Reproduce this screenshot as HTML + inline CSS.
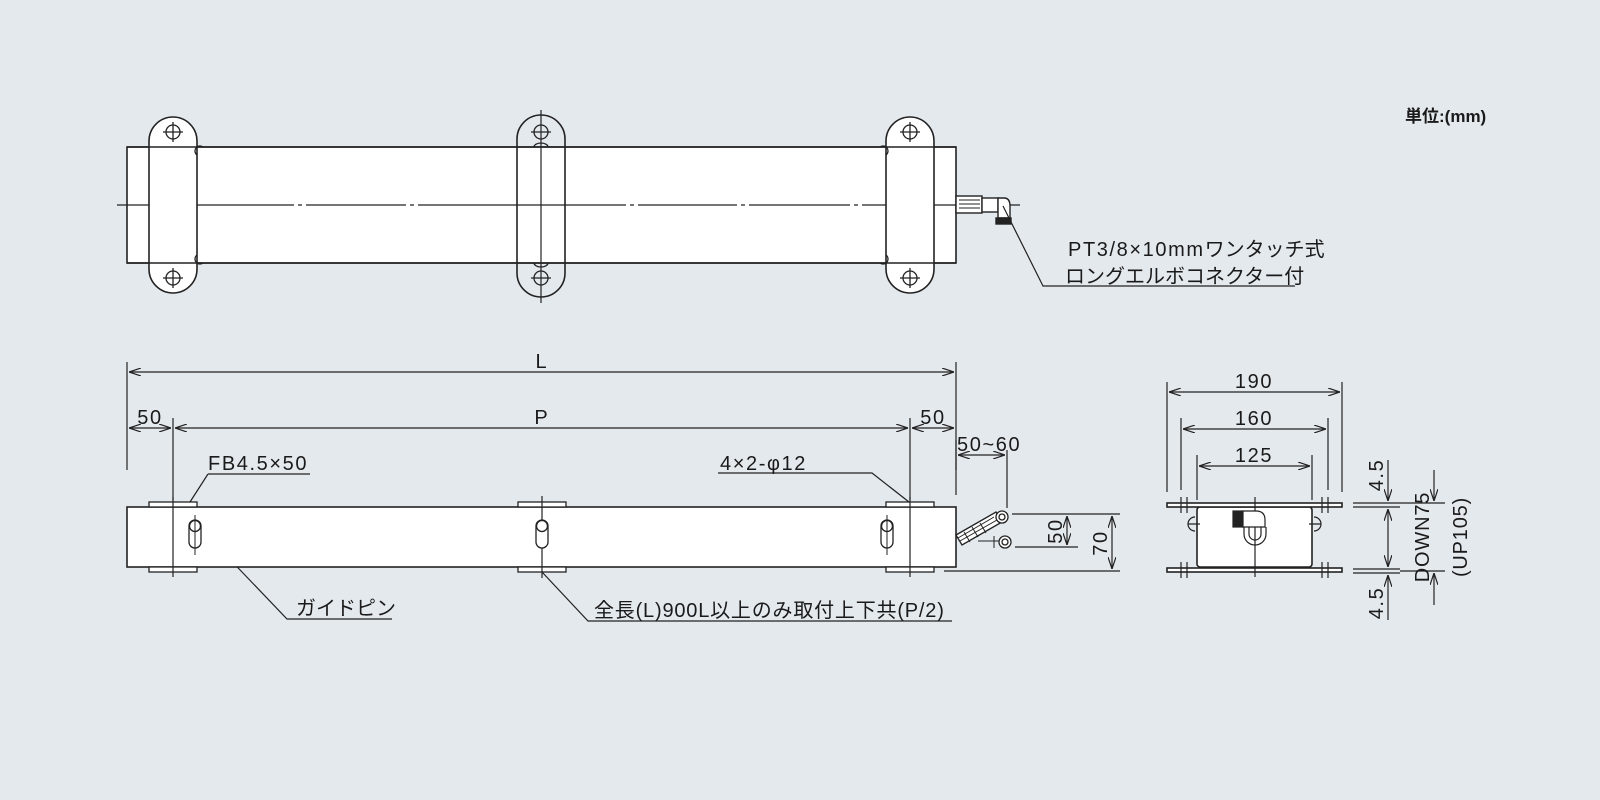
<!DOCTYPE html>
<html><head><meta charset="utf-8"><style>
html,body{margin:0;padding:0;background:#e4e9ee;}
svg{display:block}
text{font-family:"Liberation Sans","Noto Sans CJK JP",sans-serif;fill:#1a1a1a}
.l{letter-spacing:1.6px}
</style></head><body>
<svg width="1600" height="800" viewBox="0 0 1600 800" xmlns="http://www.w3.org/2000/svg">
<defs>
<marker id="a" viewBox="0 0 12 8" refX="12" refY="4" markerWidth="12" markerHeight="8" orient="auto-start-reverse" markerUnits="userSpaceOnUse">
<path d="M0,0 L12,4 L0,8" fill="none" stroke="#222" stroke-width="1.2"/></marker>
</defs>
<rect width="1600" height="800" fill="#e4e9ee"/>
<g stroke="#222" stroke-width="1.6" fill="none">
<rect x="127" y="147" width="829" height="116" fill="#fff"/>
<path d="M117 205 H294 M298 205 H302 M306 205 H406 M410 205 H414 M418 205 H626 M630 205 H634 M638 205 H737 M741 205 H745 M749 205 H850 M854 205 H858 M862 205 H1020" stroke-width="1.2"/>
<g fill="#fff">
<path d="M149 141 A24 24 0 0 1 197 141 V269 A24 24 0 0 1 149 269 Z"/>
<path d="M886 141 A24 24 0 0 1 934 141 V269 A24 24 0 0 1 886 269 Z"/>
</g>
<path d="M517 139 A24 24 0 0 1 565 139 V273 A24 24 0 0 1 517 273 Z"/>
<path d="M127 147 H956 M127 263 H956"/>
<path d="M541 110 V303" stroke-width="1.2"/>
<g stroke-width="1.3">
<circle cx="173" cy="132" r="7"/><path d="M173 122V142M163 132H183"/>
<circle cx="173" cy="278" r="7"/><path d="M173 268V288M163 278H183"/>
<circle cx="541" cy="132" r="7"/><path d="M531 132H551"/>
<circle cx="541" cy="278" r="7"/><path d="M531 278H551"/>
<circle cx="910" cy="132" r="7"/><path d="M910 122V142M900 132H920"/>
<circle cx="910" cy="278" r="7"/><path d="M910 268V288M900 278H920"/>
<path d="M197 155 a4 4 0 0 1 6 -8 M197 255 a4 4 0 0 0 6 8 M886 155 a4 4 0 0 0 -6 -8 M886 255 a4 4 0 0 1 -6 8 M534 147 a7 4 0 0 1 14 0 M534 263 a7 4 0 0 0 14 0"/>
</g>
<g stroke-width="1.4" fill="#fff">
<rect x="956" y="196" width="26" height="17"/>
<path d="M959 200H980M959 204H980M959 208H980" stroke-width="1"/>
<rect x="982" y="198" width="16" height="14"/>
<path d="M998 198 H1004 Q1010 198 1010 206 V218 H998 Z"/>
<rect x="996" y="218" width="15" height="6" fill="#222"/>
</g>
<path d="M1003 206 L1043 286 H1295" stroke-width="1.2"/>
<g stroke-width="1.2">
<path d="M127 362 V470 M956 362 V470"/>
<path d="M129 372 H954" marker-start="url(#a)" marker-end="url(#a)"/>
<path d="M173 418 V500 M910 418 V500"/>
<path d="M129 428 H171" marker-start="url(#a)" marker-end="url(#a)"/>
<path d="M175 428 H908" marker-start="url(#a)" marker-end="url(#a)"/>
<path d="M912 428 H954" marker-start="url(#a)" marker-end="url(#a)"/>
<path d="M956 440 V495 M1007 450 V508"/>
<path d="M958 455 H1005" marker-start="url(#a)" marker-end="url(#a)"/>
<path d="M208 474 H310 M208 474 L190 502"/>
<path d="M718 473 H872 L909 502"/>
<path d="M198 526 L287 619 H392"/>
<path d="M542 572 L588 621 H952"/>
</g>
<rect x="127" y="507" width="829" height="60" fill="#fff"/>
<g fill="#fff" stroke-width="1.3">
<rect x="149" y="502" width="48" height="5"/><rect x="149" y="567" width="48" height="5"/>
<rect x="518" y="502" width="48" height="5"/><rect x="518" y="567" width="48" height="5"/>
<rect x="886" y="502" width="48" height="5"/><rect x="886" y="567" width="48" height="5"/>
</g>
<path d="M173 497V577M910 497V577M542 496V578" stroke-width="1.2"/>
<g stroke-width="1.3" fill="#fff">
<rect x="189" y="520" width="12" height="28" rx="6"/><circle cx="195" cy="526" r="5.5"/>
<rect x="536" y="520" width="12" height="28" rx="6"/><circle cx="542" cy="526" r="5.5"/>
<rect x="881" y="520" width="12" height="28" rx="6"/><circle cx="887" cy="526" r="5.5"/>
</g>
<path d="M195 515V555M887 515V555" stroke-width="1"/>
<g stroke-width="1.3" fill="#fff">
<path d="M956 535 L996 512 L1002 522 L962 545 Z"/>
<path d="M964 532 L970 542 M972 527 L978 537 M980 523 L986 533 M958 538 L994 517 M960 541 L997 520" stroke-width="1"/>
<circle cx="1002" cy="517" r="6"/><circle cx="1002" cy="517" r="3"/>
<circle cx="1005" cy="542" r="6"/><circle cx="1005" cy="542" r="3"/>
<path d="M978 541 H999 M994 536 V548" stroke-width="1"/>
</g>
<g stroke-width="1.2">
<path d="M1012 514 H1120 M1015 547 H1078 M944 571 H1120"/>
<path d="M1067 516 V545" marker-start="url(#a)" marker-end="url(#a)"/>
<path d="M1112 516 V569" marker-start="url(#a)" marker-end="url(#a)"/>
</g>
<g stroke-width="1.2">
<path d="M1167 382V492 M1342 382V492 M1181 418V490 M1328 418V490 M1197 455V500 M1312 455V500"/>
<path d="M1169 392 H1340" marker-start="url(#a)" marker-end="url(#a)"/>
<path d="M1183 429 H1326" marker-start="url(#a)" marker-end="url(#a)"/>
<path d="M1199 466 H1310" marker-start="url(#a)" marker-end="url(#a)"/>
</g>
<rect x="1197" y="507" width="115" height="60" rx="3" fill="#fff"/>
<rect x="1167" y="503" width="175" height="4" fill="#fff"/>
<rect x="1167" y="568" width="175" height="4" fill="#fff"/>
<g stroke-width="1.2">
<path d="M1181 497V513M1328 497V513M1181 562V578M1328 562V578M1187 497V513M1322 497V513M1187 562V578M1322 562V578"/>
<path d="M1255 497 V577"/>
<path d="M1195 517 a7 7 0 0 0 0 14 M1188 524 H1200 M1314 517 a7 7 0 0 1 0 14 M1309 524 H1321"/>
<rect x="1233" y="511" width="10" height="16" fill="#222"/>
<path d="M1243 511 H1256 Q1265 511 1265 520 V527 H1243 Z" fill="#fff"/>
<path d="M1244 527 V534 a11 11 0 0 0 22 0 V527 M1249 527 V534 a6 6 0 0 0 12 0 V527"/>
<path d="M1353 503 H1400 M1353 507 H1400 M1353 569 H1400 M1353 573 H1400 M1400 503 H1445 M1400 571 H1445"/>
<path d="M1388 460 V501" marker-end="url(#a)"/>
<path d="M1388 509 V567" marker-start="url(#a)" marker-end="url(#a)"/>
<path d="M1388 620 V575" marker-end="url(#a)"/>
<path d="M1434 470 V501" marker-end="url(#a)"/>
<path d="M1434 605 V573" marker-end="url(#a)"/>
</g>
</g>
<text x="1405" y="122" font-size="17" font-weight="bold">単位:(mm)</text>
<text x="1068" y="256" font-size="20"><tspan class="l">PT3/8×10mm</tspan>ワンタッチ式</text>
<text x="1065" y="283" font-size="20">ロングエルボコネクター付</text>
<text x="541" y="368" font-size="20" text-anchor="middle">L</text>
<text x="541" y="424" font-size="20" text-anchor="middle">P</text>
<text x="150" y="424" font-size="20" class="l" text-anchor="middle">50</text>
<text x="933" y="424" font-size="20" class="l" text-anchor="middle">50</text>
<text x="957" y="451" font-size="20" class="l">50~60</text>
<text x="208" y="470" font-size="20" class="l">FB4.5×50</text>
<text x="720" y="470" font-size="20" class="l">4×2-φ12</text>
<text x="296" y="615" font-size="20">ガイドピン</text>
<text x="594" y="617" font-size="20" letter-spacing="0.8">全長(L)900L以上のみ取付上下共(P/2)</text>
<text font-size="20" class="l" transform="translate(1062 531) rotate(-90)" text-anchor="middle">50</text>
<text font-size="20" class="l" transform="translate(1107 543) rotate(-90)" text-anchor="middle">70</text>
<text x="1254" y="388" font-size="20" class="l" text-anchor="middle">190</text>
<text x="1254" y="425" font-size="20" class="l" text-anchor="middle">160</text>
<text x="1254" y="462" font-size="20" class="l" text-anchor="middle">125</text>
<text font-size="20" class="l" transform="translate(1383 475) rotate(-90)" text-anchor="middle">4.5</text>
<text font-size="20" class="l" transform="translate(1383 603) rotate(-90)" text-anchor="middle">4.5</text>
<text font-size="20" letter-spacing="0.8" transform="translate(1429 537) rotate(-90)" text-anchor="middle">DOWN75</text>
<text font-size="20" letter-spacing="0.8" transform="translate(1467 537) rotate(-90)" text-anchor="middle">(UP105)</text>
</svg>
</body></html>
